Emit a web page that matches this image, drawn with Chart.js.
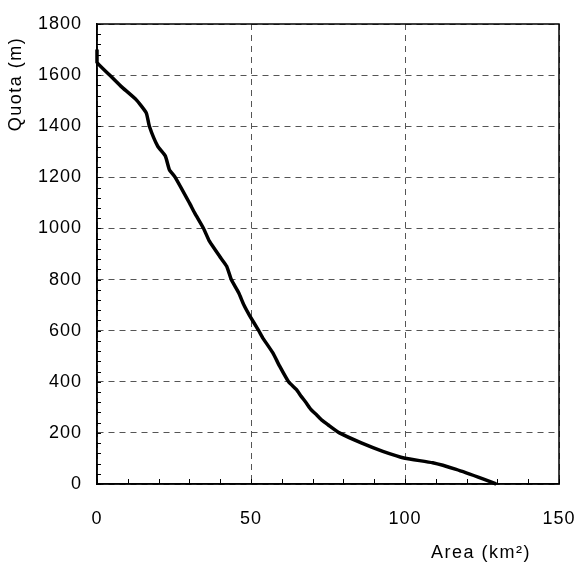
<!DOCTYPE html>
<html>
<head>
<meta charset="utf-8">
<script src="https://cdn.jsdelivr.net/npm/chart.js@4.4.0/dist/chart.umd.min.js"></script>
<style>
    html, body { margin: 0; padding: 0; background: #fff; }
</style>
</head>
<body>
<canvas id="chart" width="581" height="567"></canvas>
<script>
// Hypsometric curve: area (km2) above each elevation (m)
const area = [0, 0, 4.1, 7.8, 12.7, 16.0, 17.0, 19.7, 22.2, 23.5, 25.4, 30.0, 31.7, 34.6, 36.5,
    39.8, 42.1, 43.6, 46.0, 47.7, 49.5, 52.5, 53.8, 57.1, 59.3, 62.2, 64.7, 66.3, 67.9, 69.5,
    71.2, 73.0, 75.0, 78.7, 85.8, 92.8, 100.0, 109.0, 116.6, 125.3, 129.6];
const quota = [1700, 1650, 1600, 1556, 1504, 1452, 1400, 1322, 1283, 1230, 1200, 1100, 1061, 1000, 950,
    891, 852, 800, 748, 700, 660, 600, 572, 513, 461, 400, 370, 343, 318, 291,
    272, 250, 232, 200, 161, 128, 101, 83, 57, 20, 0];

const xMin = 0, xMax = 150, xStep = 50, xMinorStep = 10;
const yMin = 0, yMax = 1800, yStep = 200, yMinorStep = 40;
const xTitle = 'Area (km²)';
const yTitle = 'Quota (m)';

const FONT = '"Liberation Sans", Arial, sans-serif';

// frame, inner minor ticks and axis titles
const framePlugin = {
    id: 'frame',
    beforeDraw(chart) {
        chart.ctx.letterSpacing = '1px';
    },
    beforeDatasetsDraw(chart) {
        const ctx = chart.ctx;
        const a = chart.chartArea;
        const xs = chart.scales.x;
        const ys = chart.scales.y;
        ctx.save();
        ctx.strokeStyle = '#000';
        ctx.lineWidth = 1;
        ctx.beginPath();
        for (let v = yMin; v <= yMax; v += yMinorStep) {
            const py = Math.round(ys.getPixelForValue(v)) + 0.5;
            ctx.moveTo(a.left, py);
            ctx.lineTo(a.left + 4, py);
        }
        for (let v = xMin; v <= xMax; v += xMinorStep) {
            const px = Math.round(xs.getPixelForValue(v)) + 0.5;
            ctx.moveTo(px, a.bottom);
            ctx.lineTo(px, a.bottom - 5);
        }
        ctx.stroke();
        ctx.lineWidth = 1.5;
        ctx.strokeRect(a.left, a.top, a.right - a.left, a.bottom - a.top);

        ctx.fillStyle = '#000';
        ctx.font = '18px ' + FONT;
        ctx.letterSpacing = '1.5px';
        ctx.textAlign = 'center';
        ctx.textBaseline = 'middle';
        ctx.fillText(xTitle, 481, 553);
        ctx.translate(16, 84);
        ctx.rotate(-Math.PI / 2);
        ctx.fillText(yTitle, 0, 0);
        ctx.restore();
    }
};

new Chart(document.getElementById('chart'), {
    type: 'scatter',
    data: {
        datasets: [{
            data: area.map((x, i) => ({ x: x, y: quota[i] })),
            showLine: true,
            borderColor: '#000',
            borderWidth: 3.5,
            pointRadius: 0,
            tension: 0.15,
            fill: false,
            clip: false
        }]
    },
    options: {
        responsive: false,
        animation: false,
        layout: { padding: { top: 24, right: 22, left: 0, bottom: 0 } },
        plugins: {
            legend: { display: false },
            tooltip: { enabled: false }
        },
        scales: {
            x: {
                type: 'linear',
                min: xMin,
                max: xMax,
                afterFit(scale) {
                    scale.height = 83;
                    scale.paddingLeft = 0;
                    scale.paddingRight = 0;
                },
                ticks: {
                    stepSize: xStep,
                    color: '#000',
                    padding: 24,
                    font: { family: FONT, size: 18 },
                    callback: v => String(v)
                },
                grid: {
                    color: '#555',
                    lineWidth: 1,
                    drawTicks: false
                },
                border: { display: true, color: '#000', width: 1.5, dash: [6, 5] }
            },
            y: {
                type: 'linear',
                min: yMin,
                max: yMax,
                afterFit(scale) {
                    scale.width = 97;
                    scale.paddingTop = 0;
                    scale.paddingBottom = 0;
                },
                ticks: {
                    stepSize: yStep,
                    color: '#000',
                    padding: 15,
                    font: { family: FONT, size: 18 },
                    callback: v => String(v)
                },
                grid: {
                    color: '#555',
                    lineWidth: 1,
                    drawTicks: false
                },
                border: { display: true, color: '#000', width: 1.5, dash: [6, 5] }
            }
        }
    },
    plugins: [framePlugin]
});
</script>
</body>
</html>
